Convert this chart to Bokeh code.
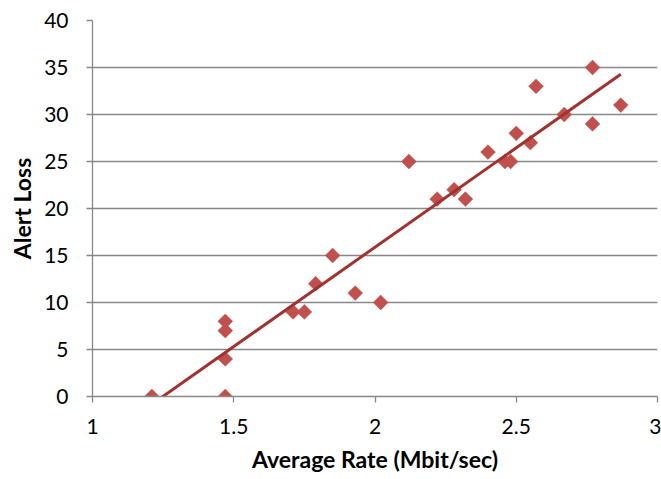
import numpy as np
from bokeh.plotting import figure
from bokeh.models import ColumnDataSource, FixedTicker, Range1d
from bokeh.embed import file_html
from bokeh.resources import INLINE

# Data
avg_rate = [1.21, 1.47, 1.47, 1.47, 1.47, 1.71, 1.75, 1.79, 1.85, 1.93, 2.02,
            2.12, 2.22, 2.28, 2.32, 2.40, 2.46, 2.48, 2.50, 2.55, 2.57, 2.67,
            2.77, 2.77, 2.87]
alert_loss = [0, 0, 4, 7, 8, 9, 9, 12, 15, 11, 10,
              25, 21, 22, 21, 26, 25, 25, 28, 27, 33, 30,
              35, 29, 31]
x_ticks = [1, 1.5, 2, 2.5, 3]
y_ticks = [0, 5, 10, 15, 20, 25, 30, 35, 40]

# linear trendline (least squares), spanning the data's x range
slope, intercept = np.polyfit(avg_rate, alert_loss, 1)
trend_x = [min(avg_rate), max(avg_rate)]
trend_y = [slope * v + intercept for v in trend_x]

FONT = "Lato"
GRAY = "#888888"

p = figure(width=661, height=479, output_backend="svg", toolbar_location=None,
           x_range=Range1d(1, 3), y_range=Range1d(0, 40),
           min_border_left=92, min_border_right=4, min_border_top=20,
           min_border_bottom=83)
p.outline_line_color = None
p.background_fill_color = "white"
p.border_fill_color = "white"

p.xgrid.grid_line_color = None
p.ygrid.grid_line_color = GRAY
p.ygrid.grid_line_width = 1.3
p.ygrid.ticker = FixedTicker(ticks=y_ticks)

p.xaxis.ticker = FixedTicker(ticks=x_ticks)
p.yaxis.ticker = FixedTicker(ticks=y_ticks)
p.xaxis.major_label_overrides = {1: "1", 1.5: "1.5", 2: "2", 2.5: "2.5", 3: "3"}

for ax in (p.xaxis, p.yaxis):
    ax.axis_line_color = GRAY
    ax.axis_line_width = 1.3
    ax.major_tick_line_color = GRAY
    ax.major_tick_line_width = 1.3
    ax.major_tick_out = 6
    ax.major_tick_in = 0
    ax.minor_tick_line_color = None
    ax.major_label_text_font = FONT
    ax.major_label_text_font_size = "21px"
    ax.major_label_text_color = "#000000"
    ax.axis_label_text_font = FONT
    ax.axis_label_text_font_size = "23px"
    ax.axis_label_text_font_style = "bold"
    ax.axis_label_text_color = "#000000"

p.xaxis.axis_label = "Average Rate (Mbit/sec)"
p.yaxis.axis_label = "Alert Loss"
p.xaxis.major_label_standoff = 16
p.yaxis.major_label_standoff = 18
p.xaxis.axis_label_standoff = 8
p.yaxis.axis_label_standoff = 5

src = ColumnDataSource(data=dict(x=avg_rate, y=alert_loss))
p.scatter("x", "y", source=src, marker="square", angle=np.pi / 4, size=10.5,
          fill_color="#C0504D", line_color="#C0504D", line_width=0.5)
p.line(trend_x, trend_y, line_color="#A0322F", line_width=3)

open("out.html", "w").write(file_html(p, INLINE))
